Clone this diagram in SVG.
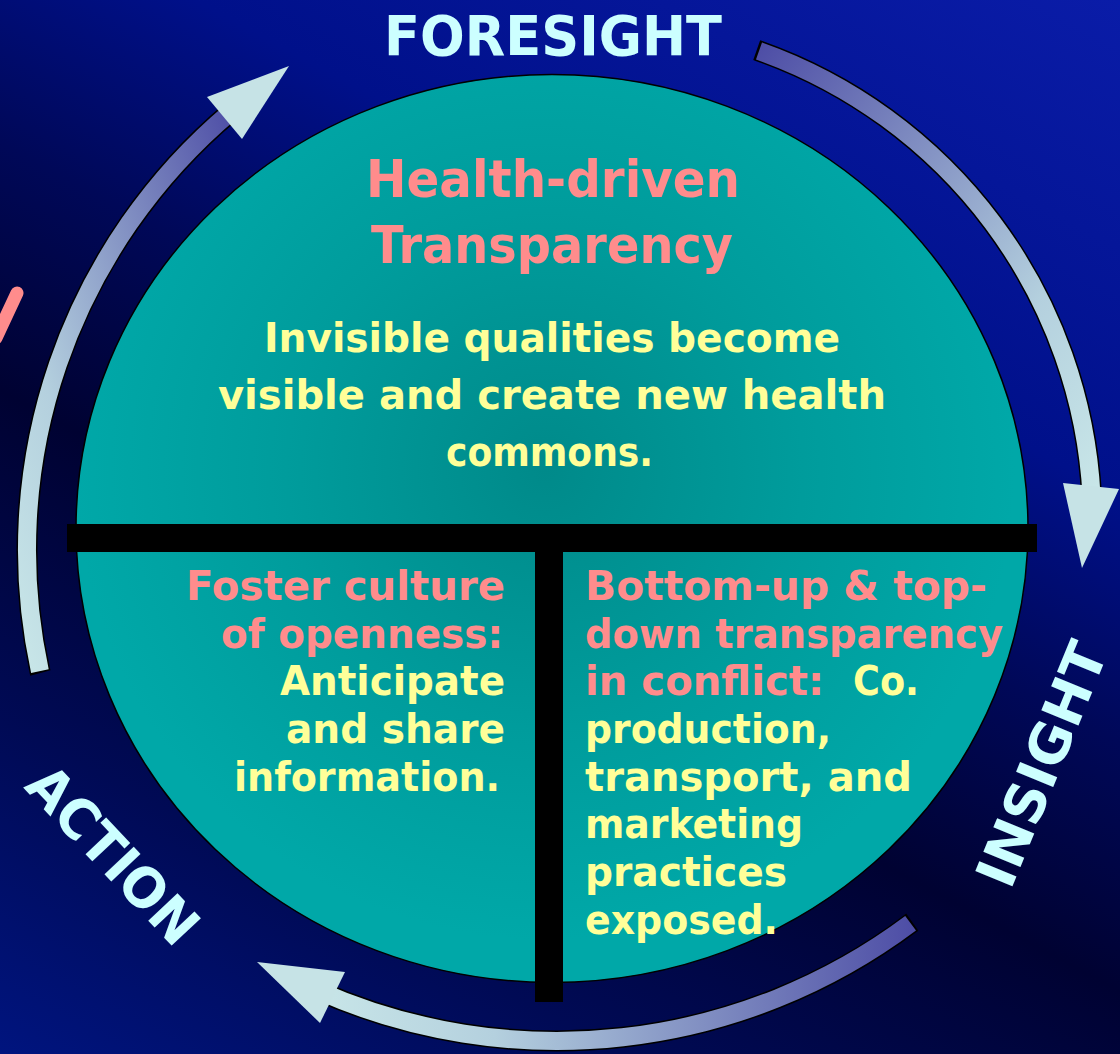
<svg xmlns="http://www.w3.org/2000/svg" width="1120" height="1054" viewBox="0 0 1120 1054">
<defs>
<linearGradient id="bg" gradientUnits="userSpaceOnUse" x1="1120" y1="0" x2="432" y2="1283">
<stop offset="0" stop-color="#0A1CA8"/>
<stop offset="0.3" stop-color="#00108A"/>
<stop offset="0.45" stop-color="#000858"/>
<stop offset="0.6" stop-color="#000232"/>
<stop offset="0.8" stop-color="#000A55"/>
<stop offset="1" stop-color="#00147E"/>
</linearGradient>
<radialGradient id="teal" gradientUnits="userSpaceOnUse" cx="545" cy="470" r="470">
<stop offset="0" stop-color="#008A8A"/>
<stop offset="0.55" stop-color="#009C9C"/>
<stop offset="1" stop-color="#00A8A8"/>
</radialGradient>
<linearGradient id="g1" x1="0" y1="1" x2="1" y2="0">
<stop offset="0" stop-color="#C8E6E8"/>
<stop offset="0.3" stop-color="#B4D0DE"/>
<stop offset="1" stop-color="#4E4EA6"/>
</linearGradient>
<linearGradient id="g2" x1="0" y1="0" x2="1" y2="1">
<stop offset="0" stop-color="#4E4EA6"/>
<stop offset="0.7" stop-color="#B4D0DE"/>
<stop offset="1" stop-color="#C8E6E8"/>
</linearGradient>
<linearGradient id="g3" x1="0" y1="0" x2="1" y2="0">
<stop offset="0" stop-color="#C8E6E8"/>
<stop offset="0.3" stop-color="#B4D0DE"/>
<stop offset="1" stop-color="#4E4EA6"/>
</linearGradient>
<style>
text{font-family:"DejaVu Sans","Liberation Sans",sans-serif;font-weight:bold}
.lbl{font-size:55px;fill:#CCFFFF}
.ttl{font-size:52px;fill:#FF8C8C}
.body{font-size:41px}
.pk{fill:#FF8C8C}
.yl{fill:#FFFF99}
.bo{fill:none;stroke:#000;stroke-width:21}
.bi{fill:none;stroke-width:18}
.head{fill:#C6E3E6}
</style>
</defs>

<rect id="background" x="0" y="0" width="1120" height="1054" fill="url(#bg)"/>
<path d="M17 293 L-4 338" stroke="#FF8C8C" stroke-width="13" stroke-linecap="round" fill="none"/>

<g id="connectors">
<g id="arrow-action-foresight">
<path class="bo" d="M40.4 673 L39.9 671.1 A573 573 0 0 1 231.7 111.1"/>
<path class="bi" stroke="url(#g1)" d="M39.9 671.1 A573 573 0 0 1 231.7 111.1"/>
<polygon class="head" points="207,97 289,66 242,139"/>
</g>
<g id="arrow-foresight-insight">
<path class="bo" d="M756.7 50.2 L759 51 A500 500 0 0 1 1091.6 496.2"/>
<path class="bi" stroke="url(#g2)" d="M759 51 A500 500 0 0 1 1091.6 496.2"/>
<polygon class="head" points="1063,483 1119,489 1082,568"/>
</g>
<g id="arrow-insight-action">
<path class="bo" d="M912.3 922.1 L910.6 923.3 A590.7 590.7 0 0 1 316.5 989.9"/>
<path class="bi" stroke="url(#g3)" d="M910.6 923.3 A590.7 590.7 0 0 1 316.5 989.9"/>
<polygon class="head" points="257,962 345,972 320,1023"/>
</g>
</g>

<g id="circle">
<ellipse cx="552" cy="528.5" rx="476" ry="454" fill="url(#teal)" stroke="#000" stroke-width="1.5"/>
<rect x="67" y="524" width="970" height="28" fill="#000"/>
<rect x="535" y="524" width="28" height="478" fill="#000"/>
</g>

<g id="top-node">
<text class="ttl" x="366" y="197" textLength="374" lengthAdjust="spacingAndGlyphs">Health-driven</text>
<text class="ttl" x="371" y="263" textLength="362" lengthAdjust="spacingAndGlyphs">Transparency</text>
<text class="body yl" x="264" y="352" textLength="576" lengthAdjust="spacingAndGlyphs">Invisible qualities become</text>
<text class="body yl" x="218" y="409" textLength="668" lengthAdjust="spacingAndGlyphs">visible and create new health</text>
<text class="body yl" x="446" y="466" textLength="207" lengthAdjust="spacingAndGlyphs">commons.</text>
</g>

<g id="left-node">
<text class="body pk" x="186" y="600" textLength="319" lengthAdjust="spacingAndGlyphs">Foster culture</text>
<text class="body pk" x="221" y="648" textLength="282" lengthAdjust="spacingAndGlyphs">of openness:</text>
<text class="body yl" x="280" y="695" textLength="225" lengthAdjust="spacingAndGlyphs">Anticipate</text>
<text class="body yl" x="286" y="743" textLength="219" lengthAdjust="spacingAndGlyphs">and share</text>
<text class="body yl" x="234" y="791" textLength="266" lengthAdjust="spacingAndGlyphs">information.</text>
</g>

<g id="right-node">
<text class="body pk" x="585" y="600" textLength="402" lengthAdjust="spacingAndGlyphs">Bottom-up &amp; top-</text>
<text class="body pk" x="585" y="648" textLength="418" lengthAdjust="spacingAndGlyphs">down transparency</text>
<text class="body pk" x="585" y="695" textLength="239" lengthAdjust="spacingAndGlyphs">in conflict:</text>
<text class="body yl" x="853" y="695" textLength="66" lengthAdjust="spacingAndGlyphs">Co.</text>
<text class="body yl" x="585" y="743" textLength="246" lengthAdjust="spacingAndGlyphs">production,</text>
<text class="body yl" x="585" y="791" textLength="327" lengthAdjust="spacingAndGlyphs">transport, and</text>
<text class="body yl" x="585" y="838" textLength="218" lengthAdjust="spacingAndGlyphs">marketing</text>
<text class="body yl" x="585" y="886" textLength="202" lengthAdjust="spacingAndGlyphs">practices</text>
<text class="body yl" x="585" y="934" textLength="193" lengthAdjust="spacingAndGlyphs">exposed.</text>
</g>

<g id="label-foresight">
<text class="lbl" x="384" y="55" textLength="338" lengthAdjust="spacingAndGlyphs">FORESIGHT</text>
</g>
<g id="label-insight">
<text class="lbl" x="-129" y="20" textLength="258" lengthAdjust="spacingAndGlyphs" transform="translate(1041 764) rotate(-67.7)">INSIGHT</text>
</g>
<g id="label-action">
<text class="lbl" x="-111" y="20" textLength="222" lengthAdjust="spacingAndGlyphs" transform="translate(113.5 854.5) rotate(46.8)">ACTION</text>
</g>
</svg>
